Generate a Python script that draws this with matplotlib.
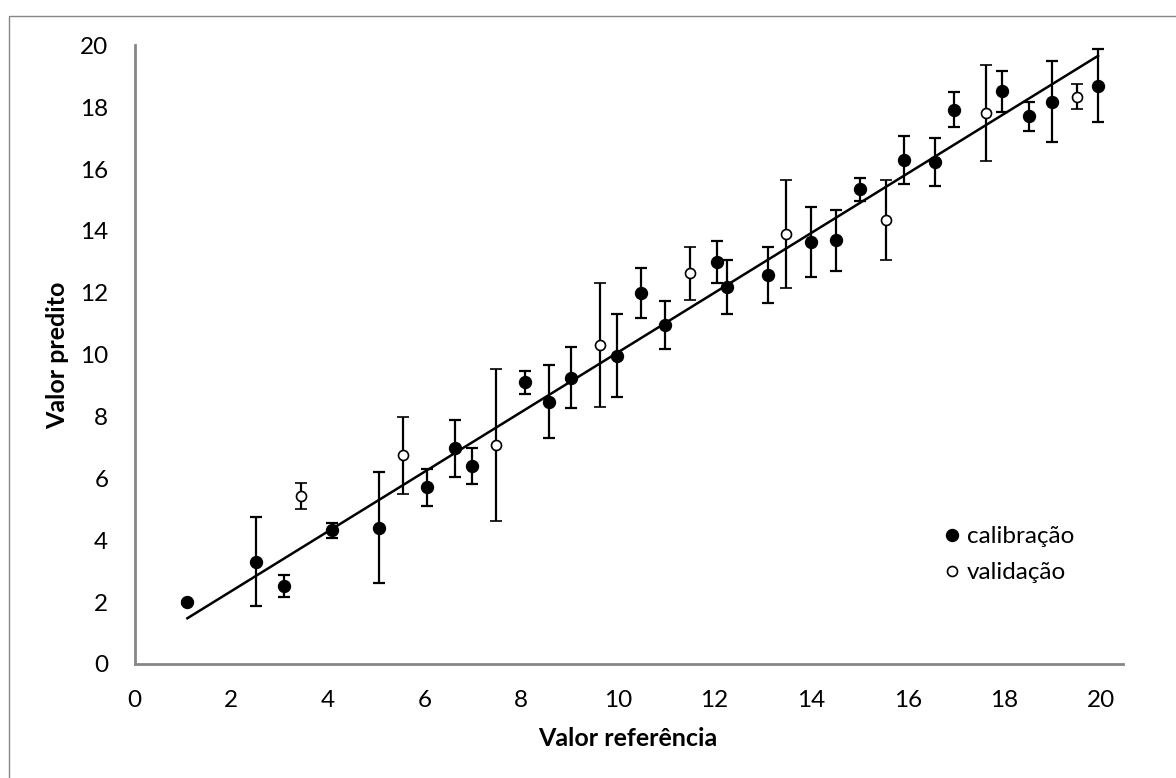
import numpy as np
import matplotlib
matplotlib.use("Agg")
import matplotlib.pyplot as plt
from matplotlib.patches import Rectangle

# Calibration set (filled markers)
cal_x = [1.09, 2.51, 3.08, 4.09, 5.05, 6.05, 6.64, 6.99, 8.07, 8.58, 9.03, 9.98,
         10.47, 10.98, 12.05, 12.26, 13.11, 14.00, 14.51, 15.02, 15.93, 16.57,
         16.96, 17.96, 18.52, 18.98, 19.94]
cal_y = [1.99, 3.31, 2.52, 4.32, 4.41, 5.71, 6.97, 6.40, 9.11, 8.47, 9.26, 9.96,
         12.00, 10.96, 12.99, 12.20, 12.57, 13.65, 13.70, 15.34, 16.30, 16.22,
         17.92, 18.51, 17.71, 18.17, 18.69]
cal_err = [0.05, 1.45, 0.35, 0.25, 1.80, 0.60, 0.93, 0.59, 0.37, 1.18, 1.00, 1.34,
           0.80, 0.79, 0.69, 0.87, 0.90, 1.13, 0.98, 0.37, 0.77, 0.77,
           0.56, 0.65, 0.47, 1.31, 1.18]

# Validation set (open markers)
val_x = [3.45, 5.55, 7.48, 9.64, 11.49, 13.48, 15.56, 17.62, 19.50]
val_y = [5.44, 6.74, 7.08, 10.31, 12.63, 13.90, 14.36, 17.81, 18.34]
val_err = [0.42, 1.25, 2.45, 2.00, 0.85, 1.74, 1.29, 1.56, 0.41]

x_ticks = [0, 2, 4, 6, 8, 10, 12, 14, 16, 18, 20]
y_ticks = [0, 2, 4, 6, 8, 10, 12, 14, 16, 18, 20]

plt.rcParams['font.family'] = ['Lato', 'DejaVu Sans']

W, H = 1176, 778
AX_L, AX_R, AX_T, AX_B = 134.7, 1122.7, 45.3, 664
fig = plt.figure(figsize=(W / 100, H / 100), dpi=100)
ax = fig.add_axes([AX_L / W, (H - AX_B) / H, (AX_R - AX_L) / W, (AX_B - AX_T) / H])

def ax_x(px):
    return (px - AX_L) / (AX_R - AX_L)

def ax_y(py):
    return (AX_B - py) / (AX_B - AX_T)

# chart-area border (only left/top visible in reference)
fig.patches.append(Rectangle((9 / W, -0.1), 2.0, (H - 16) / H + 0.1, transform=fig.transFigure,
                             fill=False, edgecolor='#868686', linewidth=1.0, zorder=0))

# trendline (linear fit of calibration set)
coef = np.polyfit(cal_x, cal_y, 1)
xl = np.array([min(cal_x), max(cal_x)])
ax.plot(xl, np.polyval(coef, xl), color='black', lw=1.8, zorder=2)

ax.errorbar(cal_x, cal_y, yerr=cal_err, fmt='o', color='black', ms=8.6,
            ecolor='black', elinewidth=1.6, capsize=4.2, capthick=1.6, zorder=3,
            label='calibração')
ax.errorbar(val_x, val_y, yerr=val_err, fmt='o', color='black', mfc='white', mec='black',
            mew=1.2, ms=7.2, ecolor='black', elinewidth=1.6, capsize=4.2, capthick=1.6,
            zorder=3, label='validação')

FS = 17.5
ax.set_xlim(0, 20.45)
ax.set_ylim(0, 20)
ax.set_xticks(x_ticks)
ax.set_yticks(y_ticks)
ax.tick_params(length=0, labelsize=FS, colors='black')
ax.tick_params(axis='x', pad=19)
ax.tick_params(axis='y', pad=19)

for s in ['top', 'right']:
    ax.spines[s].set_visible(False)
for s in ['left', 'bottom']:
    ax.spines[s].set_color('#868686')
    ax.spines[s].set_linewidth(2)

ax.set_xlabel('Valor referência', fontsize=18, fontweight='bold')
ax.set_ylabel('Valor predito', fontsize=18, fontweight='bold')
ax.xaxis.set_label_coords(ax_x(628), ax_y(727))
ax.yaxis.set_label_coords(ax_x(69), ax_y(355))

h, l = ax.get_legend_handles_labels()
h = [hh[0] for hh in h]
leg = ax.legend(h, l, loc='upper left', bbox_to_anchor=(ax_x(945), ax_y(526)),
                frameon=False, fontsize=FS, handlelength=0.6, handletextpad=0.3,
                labelspacing=0.62, borderpad=0, borderaxespad=0)

fig.savefig('out.png', dpi=100)
